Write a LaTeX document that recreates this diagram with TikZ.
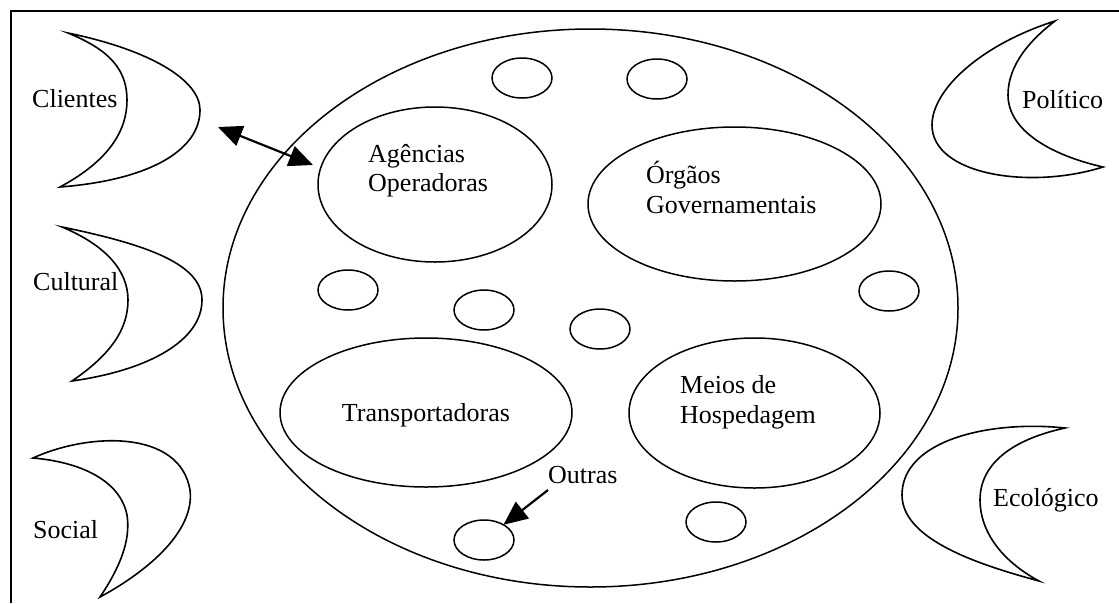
\documentclass[tikz,border=0pt]{standalone}
\usepackage{fontspec}
\setmainfont{Liberation Serif}
\usetikzlibrary{shapes.geometric,arrows.meta}
\tikzset{bighead/.tip={Triangle[length=24pt,width=21pt]}}
\begin{document}
\begin{tikzpicture}[x=1pt,y=-1pt,
  oval/.style={ellipse,draw,line width=1.5pt,inner sep=0pt,outer sep=0pt},
  smalloval/.style={oval,minimum width=60pt,minimum height=40pt},
  lbl/.style={font=\fontsize{26}{30}\selectfont,inner sep=0pt},
  moon/.style={line width=1.6pt,line join=miter,miter limit=20},
  conn/.style={line width=2.2pt}
]
\useasboundingbox (0,0) rectangle (1119,603);
% frame
\draw[line width=1.5pt] (11,603) -- (11,11) -- (1119,11);

% crescents
\draw[moon] (68,33) .. controls (150,50) and (200,80) .. (200,110) .. controls (200,150) and (150,180) .. (60,187)
  .. controls (110,160) and (127,130) .. (127,100) .. controls (127,70) and (110,50) .. cycle;
\draw[moon] (62,227) .. controls (150,245) and (202,265) .. (202,300) .. controls (202,340) and (150,370) .. (72,381)
  .. controls (110,355) and (128,330) .. (128,300) .. controls (128,270) and (105,245) .. cycle;
\draw[moon] (33,458) .. controls (90,432) and (180,430) .. (190,490) .. controls (195,530) and (150,570) .. (100,597)
  .. controls (125,560) and (130,535) .. (127,515) .. controls (120,480) and (80,462) .. cycle;
\draw[moon] (1055,21) .. controls (980,45) and (932,90) .. (932,125) .. controls (932,175) and (1030,190) .. (1103,167)
  .. controls (1050,155) and (1008,130) .. (1008,95) .. controls (1008,65) and (1030,40) .. cycle;
\draw[moon] (1065,428) .. controls (990,420) and (902,440) .. (902,495) .. controls (902,540) and (980,565) .. (1039,581)
  .. controls (1000,560) and (980,530) .. (980,500) .. controls (980,465) and (1010,440) .. cycle;

% crescent labels
\node[lbl,anchor=base west] (clientes) at (32,107) {Clientes};
\node[lbl,anchor=base west] (cultural) at (33,290) {Cultural};
\node[lbl,anchor=base west] (social) at (33,538) {Social};
\node[lbl,anchor=base west] (politico) at (1022,108) {Político};
\node[lbl,anchor=base west] (ecologico) at (993,506) {Ecológico};

% big ellipse
\node[oval,minimum width=735pt,minimum height=558pt] (org) at (590.5,308) {};

% inner ellipses
\node[oval,minimum width=234pt,minimum height=155pt] (agencias) at (435,184.5) {};
\node[oval,minimum width=293pt,minimum height=154pt] (orgaos) at (734.5,204) {};
\node[oval,minimum width=292pt,minimum height=149pt] (transp) at (426,412.5) {};
\node[oval,minimum width=251pt,minimum height=150pt] (meios) at (754.5,413) {};

% small ellipses
\node[smalloval] (o1) at (522,78) {};
\node[smalloval] (o2) at (657,79) {};
\node[smalloval] (o3) at (348,290) {};
\node[smalloval] (o4) at (484,310) {};
\node[smalloval] (o5) at (600,329) {};
\node[smalloval] (o6) at (889,291) {};
\node[smalloval] (o7) at (716,522) {};
\node[smalloval] (o8) at (484,540) {};

% inner labels
\node[lbl,anchor=base west] (t1a) at (368,162) {Agências};
\node[lbl,anchor=base west] (t1b) at (368,191) {Operadoras};
\node[lbl,anchor=base west] (t2a) at (646,183) {Órgãos};
\node[lbl,anchor=base west] (t2b) at (646,213) {Governamentais};
\node[lbl,anchor=base] (t3) at (426,421) {Transportadoras};
\node[lbl,anchor=base west] (t4a) at (680,393) {Meios de};
\node[lbl,anchor=base west] (t4b) at (680,423) {Hospedagem};
\node[lbl,anchor=base west] (outras) at (548,483) {Outras};

% connectors
\coordinate (a1) at (218,127);
\coordinate (a2) at (313,165);
\draw[conn,bighead-bighead] (a1) -- (a2);
\coordinate (b1) at (548,490);
\draw[conn,-bighead] (b1) -- (o8);
\end{tikzpicture}
\end{document}
